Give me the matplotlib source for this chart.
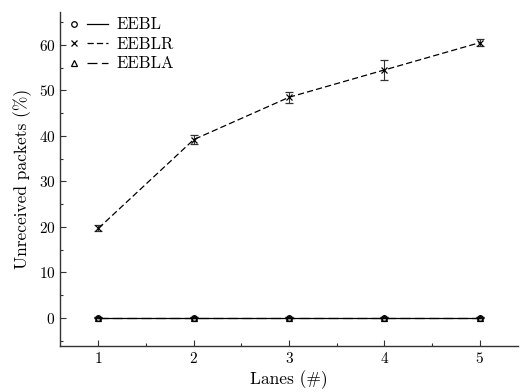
import matplotlib
matplotlib.use("Agg")
import matplotlib.pyplot as plt
from matplotlib.lines import Line2D
from matplotlib.legend_handler import HandlerTuple

plt.rcParams['font.family'] = 'serif'
plt.rcParams['font.serif'] = ['cmr10', 'DejaVu Serif']
plt.rcParams['mathtext.fontset'] = 'cm'
plt.rcParams['axes.formatter.use_mathtext'] = True

lanes = [1, 2, 3, 4, 5]
eebl = [0.0, 0.0, 0.0, 0.0, 0.0]
eebl_err = [0.1, 0.1, 0.1, 0.1, 0.1]
eeblr = [19.7, 39.2, 48.5, 54.5, 60.5]
eeblr_err = [0.7, 0.9, 1.2, 2.2, 0.8]
eebla = [0.0, 0.0, 0.0, 0.0, 0.0]
eebla_err = [0.1, 0.1, 0.1, 0.1, 0.1]
labels = ['EEBL', 'EEBLR', 'EEBLA']

fig = plt.figure(figsize=(5.2, 3.92), dpi=100)
ax = fig.add_axes([0.116, 0.117, 0.88, 0.852])

styles = [
    dict(marker='o', ls='-', dashes=None),
    dict(marker='x', ls='--', dashes=(5, 2.5)),
    dict(marker='^', ls='--', dashes=(8, 3.5)),
]
series = [(eebl, eebl_err), (eeblr, eeblr_err), (eebla, eebla_err)]
handles = []
for (vals, errs), st, lab in zip(series, styles, labels):
    kw = dict(color='black', lw=0.9, marker=st['marker'], ms=4,
              mfc='none', mec='black', mew=0.9, capsize=3, elinewidth=0.8,
              capthick=0.8, ecolor='#333333')
    eb = ax.errorbar(lanes, vals, yerr=errs, ls=st['ls'], **kw)
    if st['dashes'] is not None:
        eb.lines[0].set_dashes(st['dashes'])
    mh = Line2D([], [], ls='none', marker=st['marker'], ms=4, mfc='none',
                mec='black', mew=0.9)
    lh = Line2D([], [], color='black', lw=0.9, ls=st['ls'])
    if st['dashes'] is not None:
        lh.set_dashes(st['dashes'])
    handles.append((mh, lh))

ax.legend(handles, labels, handler_map={tuple: HandlerTuple(ndivide=None, pad=0.15)},
          loc='upper left', frameon=False, handlelength=2.7, handletextpad=0.5,
          fontsize=12, borderaxespad=0.0, borderpad=0.3, labelspacing=0.25,
          bbox_to_anchor=(-0.005, 1.0))

ax.set_xlim(0.6, 5.4)
ax.set_ylim(-6.2, 67.2)
ax.set_xticks(lanes)
ax.set_yticks([0, 10, 20, 30, 40, 50, 60])
ax.minorticks_on()
ax.xaxis.set_minor_locator(matplotlib.ticker.MultipleLocator(0.5))
ax.yaxis.set_minor_locator(matplotlib.ticker.MultipleLocator(5))
ax.tick_params(which='both', direction='in', labelsize=11, colors='#333333',
               labelcolor='black')
ax.tick_params(which='major', length=4, width=0.8)
ax.tick_params(which='minor', length=2.5, width=0.8)
for s in ['top', 'right']:
    ax.spines[s].set_visible(False)
for s in ['left', 'bottom']:
    ax.spines[s].set_color('#333333')
    ax.spines[s].set_linewidth(1.0)

ax.set_xlabel('Lanes (#)', fontsize=12.5, labelpad=3)
ax.set_ylabel('Unreceived packets (%)', fontsize=12.5, labelpad=5)

fig.savefig('out.png', dpi=100)
